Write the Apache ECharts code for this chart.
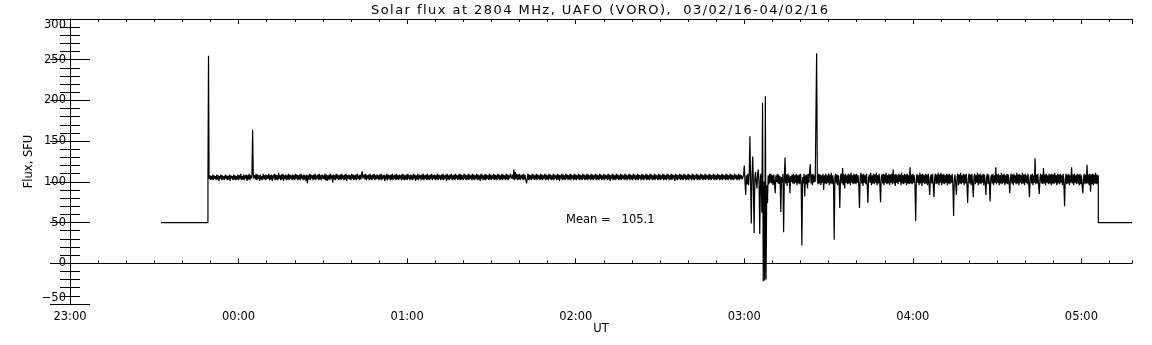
<!DOCTYPE html>
<html><head><meta charset="utf-8">
<script src="https://cdn.jsdelivr.net/npm/echarts@6/dist/echarts.min.js"></script>
<style>html,body{margin:0;padding:0;background:#fff}#c{width:1152px;height:345px}</style>
</head><body><div id="c"></div>
<script>
// x values are minutes after 23:00 UT
const xTickLabels = ['23:00','00:00','01:00','02:00','03:00','04:00','05:00'];
const titleText = 'Solar flux at 2804 MHz, UAFO (VORO),  03/02/16-04/02/16';
const meanValue = 105.1;
// leading constant level and the step at 23:49
const leadTimes = [32.4, 49.1, 49.1, 49.3];
const leadFlux  = [50, 50, 104, 255];
const sampleStep = 0.25;   // minutes between samples
// quiet interval, samples from 23:49:30 to 02:59:15
const quietStart = 49.5;
const quietFlux = [
104,108,102,107,103,109,102,108,104,107, 102,109,103,108,101,107,104,109,102,108, 103,107,102,109,104,108,102,107,103,109, 101,108,104,107,102,109,103,108,102,107,
103,109,102,108,104,110,102,107,103,109, 102,108,104,109,101,108,103,110,102,108, 104,109,164,104,102,108,103,110,102,109, 104,108,101,109,103,107,102,110,104,108,
102,109,103,108,104,110,102,108,103,109, 101,108,104,110,102,109,103,108,102,111, 104,108,102,109,103,110,101,108,104,109, 102,108,103,110,102,109,104,108,102,109,
103,108,102,110,104,109,102,108,103,109, 102,110,104,108,102,109,103,108,101,109, 98,108,103,110,102,109,104,108,102,109, 103,110,102,108,104,109,102,110,103,108,
102,109,104,108,103,110,102,109,101,108, 103,109,102,110,104,108,99,109,103,108, 102,110,104,109,102,108,103,109,102,110, 104,108,102,109,103,110,101,108,104,109,
103,108,102,110,104,109,102,108,103,109, 102,110,104,108,102,109,103,108,113,104, 102,109,103,110,102,108,104,109,102,110, 103,108,102,109,104,110,102,108,103,109,
104,108,102,109,103,110,102,108,104,109, 101,108,103,110,102,109,104,108,102,109, 103,110,102,108,104,109,102,110,103,108, 102,109,104,108,102,110,103,109,102,108,
103,109,102,110,104,108,102,109,103,108, 102,110,104,109,101,108,103,110,102,109, 104,108,102,109,103,110,102,108,104,109, 102,110,103,108,102,109,104,110,102,108,
104,109,102,108,103,110,102,109,104,108, 102,109,103,110,102,108,104,109,101,110, 103,108,102,109,104,110,102,108,103,109, 102,110,104,108,102,109,103,110,102,109,
103,108,102,110,104,109,102,108,103,110, 102,109,104,108,102,110,103,109,102,108, 104,110,102,109,103,108,101,110,104,109, 102,108,103,110,102,109,104,108,102,110,
103,109,102,108,104,110,102,109,103,108, 102,110,104,109,102,108,103,110,102,109, 104,108,102,110,103,109,102,108,104,110, 111,104,109,103,115,102,112,104,110,102,
109,103,110,102,108,104,109,102,110,103, 108,102,98,104,110,102,109,103,108,102, 110,104,109,102,108,103,110,102,109,104, 108,102,110,103,109,102,108,104,110,102,
109,103,108,102,110,104,109,102,108,103, 110,102,109,104,108,102,110,103,109,101, 108,104,110,102,109,103,108,102,110,104, 109,102,108,103,110,102,109,104,108,102,
110,103,109,102,108,104,110,102,109,103, 108,102,110,104,109,102,108,103,110,102, 109,104,108,102,110,103,109,102,108,104, 110,102,109,103,108,102,110,104,109,102,
108,103,110,102,109,104,108,102,110,103, 109,101,108,104,110,102,109,103,108,102, 110,104,109,102,108,103,110,102,109,104, 108,102,110,103,109,102,108,104,110,102,
109,103,108,102,110,104,109,102,108,103, 110,102,109,104,108,102,110,103,109,102, 108,104,110,102,109,103,108,102,110,104, 109,102,108,103,110,102,109,104,108,102,
110,103,109,102,108,104,110,102,109,103, 108,102,110,104,109,102,108,103,110,102, 109,104,108,101,110,103,109,102,108,104, 110,102,109,103,108,102,110,104,109,102,
108,103,110,102,109,104,108,102,110,103, 109,102,108,104,110,102,109,103,108,102, 110,104,109,102,108,103,110,102,109,104, 108,102,110,103,109,102,108,104,110,102,
109,103,108,102,110,104,109,102,108,103, 110,102,109,104,108,102,110,103,109,102, 108,104,110,102,109,103,108,102,110,104, 109,102,108,103,110,102,109,104,108,103
];
// disturbed interval, samples from 02:59:30 to 05:06:00
const activeStart = 239.5;
const activeFlux = [
104,108,120,100,84,108,97,110,96,109, 156,98,49,108,131,96,37,104,112,99, 92,110,115,98,36,106,110,62,197,-22, 100,-21,205,-20,96,74,108,97,110,99,
110,98,108,96,109,99,86,108,100,110, 98,109,97,107,63,106,99,110,38,104, 130,98,109,95,110,99,108,86,107,100, 109,98,110,97,108,99,110,96,108,98,
109,97,110,99,22,106,98,110,82,108, 97,109,92,110,99,112,122,98,109,96, 110,99,108,100,181,258,103,97,110,98, 109,96,108,99,110,90,108,98,110,97,
108,99,110,96,109,98,111,97,108,100, 29,106,110,98,109,96,108,99,68,107, 110,98,117,96,109,92,110,99,108,97, 110,98,109,96,111,99,108,97,110,98,
109,97,110,99,108,96,68,106,111,98, 109,95,110,99,108,97,110,96,74,105, 109,99,111,96,108,98,110,97,109,99, 111,96,108,98,110,97,75,106,109,98,
110,96,109,99,111,97,108,98,110,96, 109,99,110,97,115,98,109,95,110,99, 108,97,110,100,109,96,111,98,108,97, 110,99,109,96,110,98,108,97,118,98,
109,97,110,99,108,96,52,104,110,99, 108,96,111,98,109,95,110,99,108,97, 110,98,109,96,110,99,84,106,109,98, 110,96,81,105,110,97,109,98,111,96,
109,99,111,96,109,98,110,97,108,99, 110,96,109,98,110,97,108,99,110,96, 58,104,109,98,84,106,110,96,109,98, 111,97,108,99,110,96,109,98,110,97,
74,105,110,98,109,96,110,99,81,106, 110,97,108,99,111,96,109,98,110,97, 108,99,110,96,109,98,84,106,110,97, 109,98,76,105,109,98,110,96,108,99,
118,97,109,99,110,96,108,98,111,97, 109,99,110,96,108,98,110,97,109,99, 86,106,110,98,109,96,110,99,108,97, 111,98,109,96,110,99,108,97,111,98,
109,96,110,99,108,97,110,98,81,105, 109,98,110,96,108,99,129,97,109,98, 110,96,85,105,110,98,109,97,117,98, 109,96,110,99,108,97,110,98,109,96,
110,98,109,97,111,99,108,96,110,98, 109,97,110,99,108,96,110,98,70,104, 110,97,109,98,110,96,108,99,118,98, 109,96,110,99,108,97,110,98,109,96,
110,97,108,95,86,105,110,97,109,98, 121,98,109,96,110,88,109,97,110,96, 109,98,111,97,109,98,108
];
// trailing constant level after the data end (05:06)
const tailTimes = [366.0, 378];
const tailFlux  = [50, 50];

const points = [];
leadTimes.forEach((t, i) => points.push([t, leadFlux[i]]));
quietFlux.forEach((v, i) => points.push([quietStart + i * sampleStep, v]));
activeFlux.forEach((v, i) => points.push([activeStart + i * sampleStep, v]));
tailTimes.forEach((t, i) => points.push([t, tailFlux[i]]));

const FONT = 'DejaVu Sans';
const txt = { fontFamily: FONT, fontSize: 11.5, color: '#000' };
const lineStyle = { color: '#000', width: 1 };

function xAxisDef(pos, interval, tickLen, showLabel, extra) {
  return Object.assign({
    type: 'value', position: pos, min: 0, max: 378, interval: interval,
    axisLine: { show: true, lineStyle: lineStyle },
    axisTick: { show: true, inside: true, length: tickLen, lineStyle: lineStyle },
    splitLine: { show: false },
    axisLabel: showLabel ? Object.assign({
      show: true, margin: 7, showMaxLabel: false,
      formatter: v => (v % 60 === 0 ? xTickLabels[v / 60] : '')
    }, txt) : { show: false }
  }, extra || {});
}
function yAxisDef(pos, showLabel, extra) {
  return Object.assign({
    type: 'value', position: pos, min: -50, max: 300, interval: 50,
    axisLine: { show: true, lineStyle: lineStyle },
    axisTick: { show: true, inside: true, length: 20, lineStyle: lineStyle },
    minorTick: { show: true, splitNumber: 5, length: 10, lineStyle: lineStyle },
    splitLine: { show: false }, minorSplitLine: { show: false },
    axisLabel: showLabel ? Object.assign({
      show: true, margin: 4,
      verticalAlignMinLabel: 'bottom', verticalAlignMaxLabel: 'top',
      formatter: v => (v < 0 ? '\u2212' + Math.abs(v) : String(v))
    }, txt) : { show: false }
  }, extra || {});
}

// title drawn char by char with a little extra spacing (wide plotter font)
const titleRich = titleText.split('').map(c => '{s|' + c + '}').join('');

const chart = echarts.init(document.getElementById('c'), null, { renderer: 'canvas' });
chart.setOption({
  animation: false,
  backgroundColor: '#fff',
  title: {
    text: titleRich, left: 371, top: 4, padding: 0,
    textStyle: {
      fontFamily: FONT, fontSize: 13, fontWeight: 'normal', color: '#000',
      rich: { s: { fontFamily: FONT, fontSize: 13, color: '#000', lineHeight: 14, padding: [0, 1.45, 0, 0] } }
    }
  },
  grid: { left: 70, right: 20, top: 19, bottom: 41, containLabel: false },
  xAxis: [
    xAxisDef('bottom', 60, 5, true, {
      name: 'UT', nameLocation: 'middle', nameGap: 19, nameMoveOverlap: false,
      nameTextStyle: txt
    }),
    xAxisDef('bottom', 10, 3, false),
    xAxisDef('top', 60, 5, false),
    xAxisDef('top', 10, 3, false)
  ],
  yAxis: [
    yAxisDef('left', true, {
      name: 'Flux, SFU', nameLocation: 'middle', nameGap: 35, nameMoveOverlap: false,
      nameTextStyle: txt
    }),
    yAxisDef('right', false)
  ],
  graphic: [{
    type: 'text', left: 566, top: 214,
    style: { text: 'Mean =   ' + meanValue.toFixed(1), font: '11.5px "DejaVu Sans"', fill: '#000' }
  }],
  series: [{
    type: 'line', xAxisIndex: 0, yAxisIndex: 0, data: points,
    showSymbol: false, symbol: 'none', sampling: null,
    lineStyle: { color: '#000', width: 1.2, join: 'bevel' }, itemStyle: { color: '#000' }
  }]
});
</script></body></html>
